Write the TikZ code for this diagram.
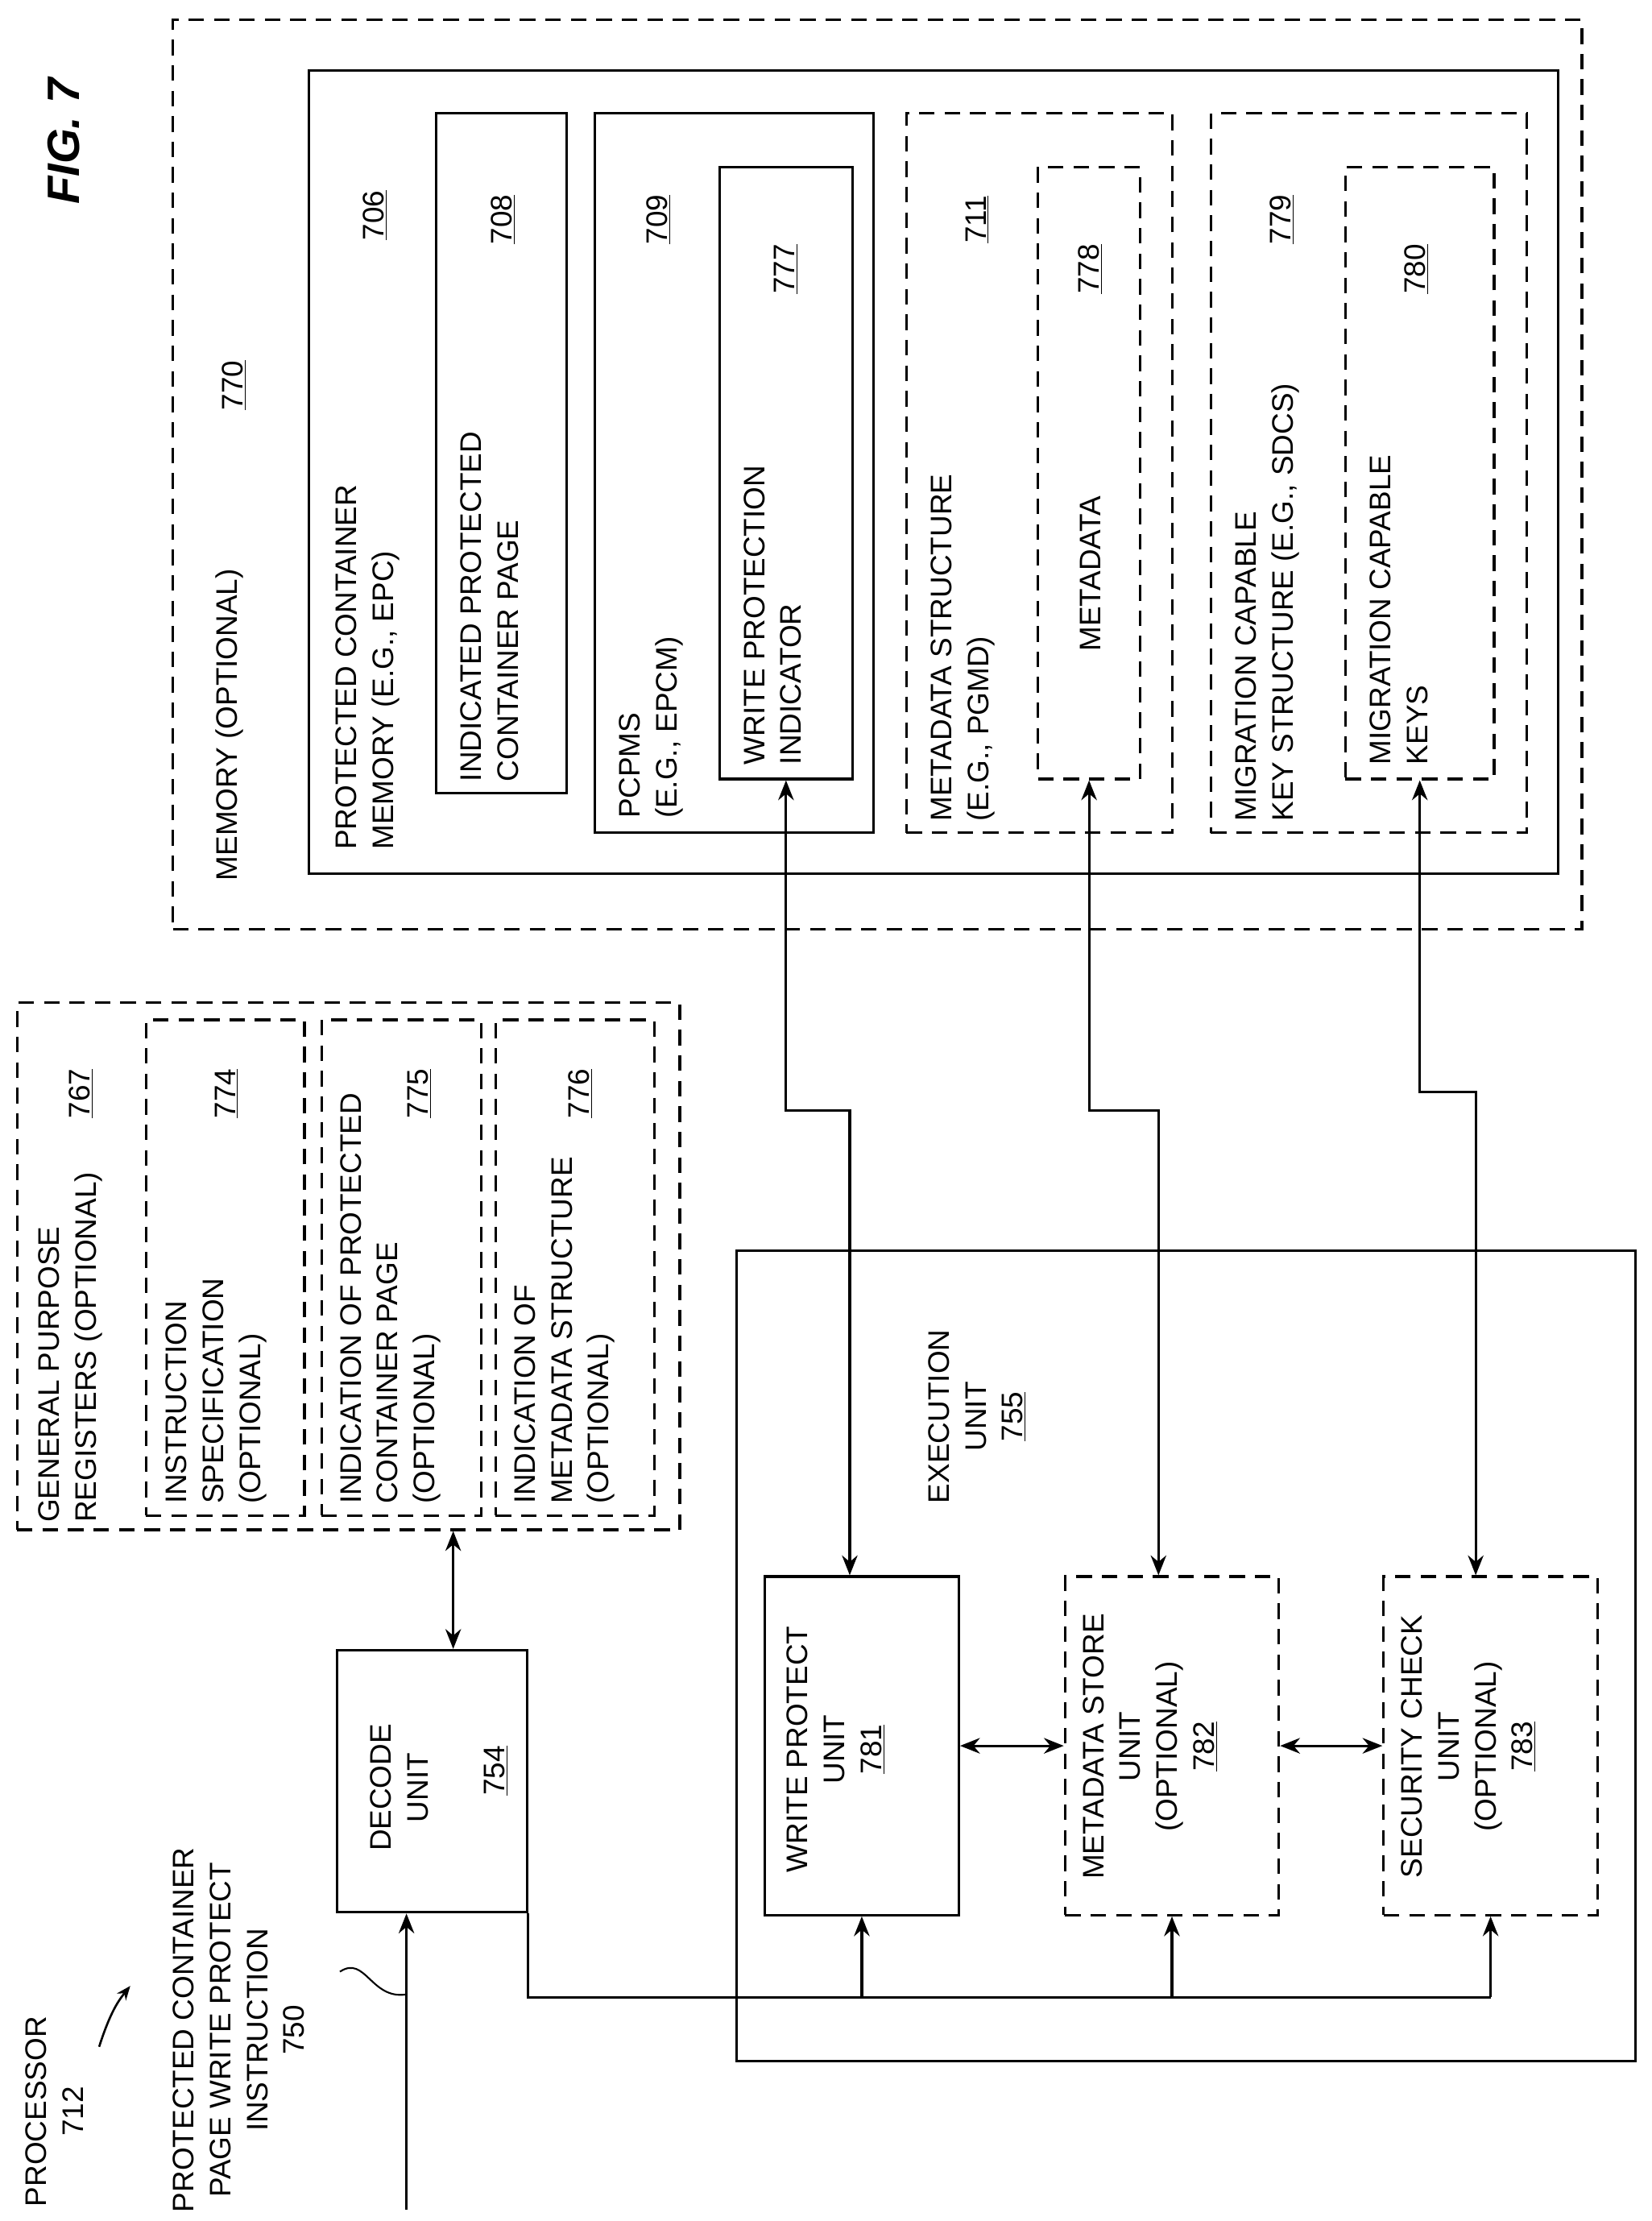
\documentclass[tikz,border=0pt]{standalone}
\usepackage{fontspec}
\setmainfont{Liberation Sans}
\usetikzlibrary{calc,arrows.meta}
\begin{document}
\begin{tikzpicture}[x=1pt,y=1pt,
  box/.style={draw,line width=1.8pt,inner sep=0pt},
  dbox/.style={box,dash pattern=on 11pt off 7pt},
  lbl/.style={font=\fontsize{21}{26}\selectfont,rotate=90,align=left,anchor=north west,inner sep=0pt},
  clbl/.style={font=\fontsize{21}{26}\selectfont,rotate=90,align=center,inner sep=0pt},
  conn/.style={line width=1.8pt},
  arr/.style={conn,-{Stealth[length=14pt,width=11pt]}},
  darr/.style={conn,{Stealth[length=14pt,width=11pt]}-{Stealth[length=14pt,width=11pt]}}]
\useasboundingbox (0,0) rectangle (1166,-1568);
% memory
\node[dbox,minimum width=995,minimum height=642] (mem) at (619.5,-335) {};
\node[box,minimum width=882,minimum height=567] (inner) at (659,-333.5) {};
\node[box,minimum width=92,minimum height=480] (b708) at (354,-320) {};
\node[box,minimum width=197,minimum height=508] (b709) at (518.5,-334) {};
\node[box,minimum width=94,minimum height=432] (b777) at (555,-334) {};
\node[dbox,minimum width=188,minimum height=508] (b711) at (734,-334) {};
\node[dbox,minimum width=72,minimum height=432] (b778) at (769,-334) {};
\node[dbox,minimum width=223,minimum height=508] (b779) at (966.5,-334) {};
\node[dbox,minimum width=105,minimum height=432] (b780) at (1002.5,-334) {};
\node[lbl] (t770) at (152,-622) {MEMORY (OPTIONAL)};
\node[clbl] (n770) at (165,-272) {\underline{770}};
\node[lbl] (t706) at (237,-600) {PROTECTED CONTAINER\\MEMORY (E.G., EPC)};
\node[clbl] (n706) at (265,-152) {\underline{706}};
\node[lbl] (t708) at (325,-552) {INDICATED PROTECTED\\CONTAINER PAGE};
\node[clbl] (n708) at (355,-155) {\underline{708}};
\node[lbl] (t709) at (437,-578) {PCPMS\\(E.G., EPCM)};
\node[clbl] (n709) at (465,-155) {\underline{709}};
\node[lbl] (t777) at (525,-540) {WRITE PROTECTION\\INDICATOR};
\node[clbl] (n777) at (555,-190) {\underline{777}};
\node[lbl] (t711) at (657,-580) {METADATA STRUCTURE\\(E.G., PGMD)};
\node[clbl] (n711) at (690,-155) {\underline{711}};
\node[clbl] (t778) at (770,-405) {METADATA};
\node[clbl] (n778) at (770,-190) {\underline{778}};
\node[lbl] (t779) at (872,-580) {MIGRATION CAPABLE\\KEY STRUCTURE (E.G., SDCS)};
\node[clbl] (n779) at (905,-155) {\underline{779}};
\node[lbl] (t780) at (967,-540) {MIGRATION CAPABLE\\KEYS};
\node[clbl] (n780) at (1000,-190) {\underline{780}};
\node[clbl,font=\fontsize{32}{36}\selectfont\bfseries\itshape] (fig) at (45,-100) {FIG. 7};
% registers
\node[dbox,minimum width=468,minimum height=372] (gpr) at (246,-894) {};
\node[dbox,minimum width=112,minimum height=350] (b774) at (159,-895) {};
\node[dbox,minimum width=113,minimum height=350] (b775) at (283.5,-895) {};
\node[dbox,minimum width=112,minimum height=350] (b776) at (406,-895) {};
\node[lbl] (t767) at (27,-1075) {GENERAL PURPOSE\\REGISTERS (OPTIONAL)};
\node[clbl] (n767) at (57,-772) {\underline{767}};
\node[lbl] (t774) at (117,-1062) {INSTRUCTION\\SPECIFICATION\\(OPTIONAL)};
\node[clbl] (n774) at (160,-772) {\underline{774}};
\node[lbl] (t775) at (240,-1062) {INDICATION OF PROTECTED\\CONTAINER PAGE\\(OPTIONAL)};
\node[clbl] (n775) at (296,-772) {\underline{775}};
\node[lbl] (t776) at (363,-1062) {INDICATION OF\\METADATA STRUCTURE\\(OPTIONAL)};
\node[clbl] (n776) at (410,-772) {\underline{776}};
% decode
\node[box,minimum width=134,minimum height=185] (dec) at (305,-1257.5) {};
\node[clbl] (tdec) at (282,-1262) {DECODE\\UNIT};
\node[clbl] (n754) at (350,-1250) {\underline{754}};
% execution
\node[box,minimum width=635,minimum height=572] (exe) at (837.5,-1169) {};
\node[clbl] (texe) at (690,-1000) {EXECUTION\\UNIT\\\underline{755}};
\node[box,minimum width=137,minimum height=239] (b781) at (608.5,-1232.5) {};
\node[dbox,minimum width=151,minimum height=239] (b782) at (827.5,-1232.5) {};
\node[dbox,minimum width=151,minimum height=239] (b783) at (1052.5,-1232.5) {};
\node[clbl] (t781) at (590,-1235) {WRITE PROTECT\\UNIT\\\underline{781}};
\node[clbl] (t782) at (812,-1233) {METADATA STORE\\UNIT\\(OPTIONAL)\\\underline{782}};
\node[clbl] (t783) at (1037,-1233) {SECURITY CHECK\\UNIT\\(OPTIONAL)\\\underline{783}};
% connectors
\draw[darr] ($(dec.north)+(15,0)$) -- ($(gpr.south)+(74,0)$);
\draw[darr] (b777.south) -- ++(0,-233) -| ($(b781.north)+(-8.5,0)$);
\draw[darr] (b778.south) -- ++(0,-233) -| ($(b782.north)+(-9.5,0)$);
\draw[darr] (b780.south) -- ++(0,-220) -| ($(b783.north)+(-10.5,0)$);
\draw[darr] (b781.east) -- (b782.west);
\draw[darr] (b782.east) -- (b783.west);
\coordinate (bus) at (0,-1410);
\draw[conn] (dec.south east) |- (b783.south |- bus);
\draw[arr] (b781.south |- bus) -- (b781.south);
\draw[arr] (b782.south |- bus) -- (b782.south);
\draw[arr] (b783.south |- bus) -- (b783.south);
\coordinate (in) at (287,-1560);
\draw[arr] (in) -- (in |- dec.south);
\node[lbl,align=center] (t750) at (122,-1562) {PROTECTED CONTAINER\\PAGE WRITE PROTECT\\INSTRUCTION\\750};
\coordinate (sq) at (287,-1408);
\draw[conn,line width=1.2pt] (240,-1392) .. controls (258,-1380) and (262,-1412) .. (sq);
\node[lbl,align=center] (t712) at (18,-1558) {PROCESSOR\\712};
\coordinate (pa) at (92,-1402);
\draw[conn,line width=1.5pt,-{Stealth[length=10pt,width=8pt]}] (70,-1445) .. controls (78,-1420) and (84,-1412) .. (pa);
\end{tikzpicture}
\end{document}
